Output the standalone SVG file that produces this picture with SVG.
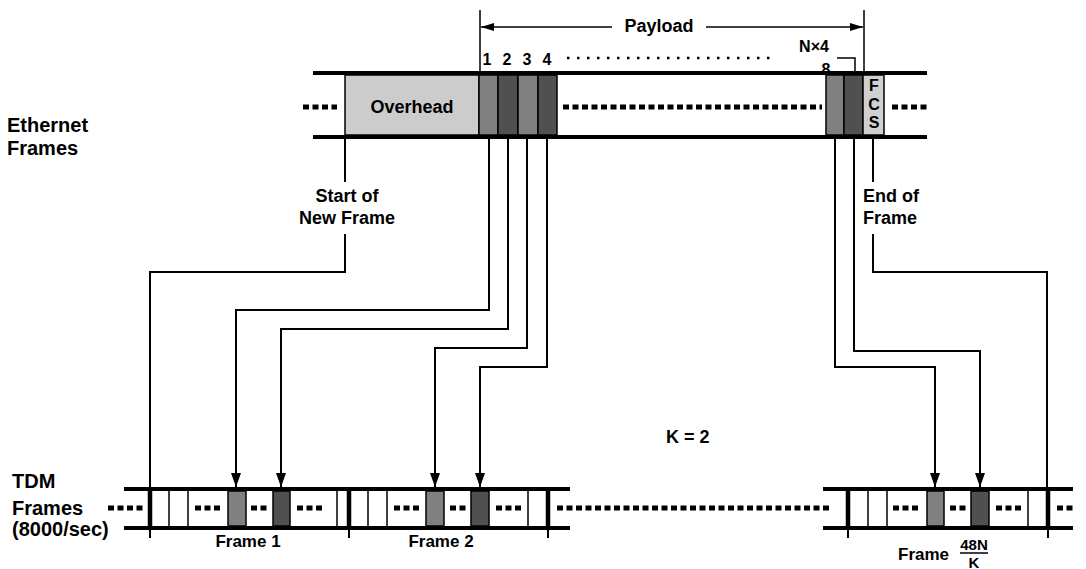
<svg xmlns="http://www.w3.org/2000/svg" width="1086" height="569" viewBox="0 0 1086 569">
<style>
.t{font-family:"Liberation Sans",Arial,sans-serif;font-weight:bold;font-size:18px;fill:#000}
.L{font-size:20px}
.s{font-size:16px}
.m{text-anchor:middle}
.ln{stroke:#000;stroke-width:2;fill:none}
.th{stroke:#000;stroke-width:1.5;fill:none}
.bar{stroke:#000;stroke-width:4}
.bnd{stroke:#000;stroke-width:4.5}
.dots{stroke:#000;stroke-width:5;stroke-dasharray:6 3.5;fill:none}
.sdots{stroke:#000;stroke-width:2.5;stroke-dasharray:2.5 7.5;fill:none}
.g1{fill:#808080;stroke:#000;stroke-width:1.5}
.g2{fill:#505050;stroke:#000;stroke-width:1.5}
.g3{fill:#cccccc;stroke:#000;stroke-width:1.5}
</style>
<defs>
<marker id="ah" viewBox="0 0 10 14" refX="5" refY="14" markerWidth="10" markerHeight="14" markerUnits="userSpaceOnUse" orient="0"><path d="M0,0 L10,0 L5,14 z" fill="#000"/></marker>
<marker id="pa" viewBox="0 0 13 8" refX="13" refY="4" markerWidth="13" markerHeight="8" markerUnits="userSpaceOnUse" orient="auto"><path d="M0,0 L13,4 L0,8 z" fill="#000"/></marker>
</defs>

<g id="labels-left">
<text class="t L" x="7" y="132">Ethernet</text>
<text class="t L" x="7" y="155">Frames</text>
<text class="t L" x="12" y="488">TDM</text>
<text class="t L" x="12" y="515">Frames</text>
<text class="t L" x="12" y="536">(8000/sec)</text>
</g>

<g id="payload">
<line class="th" x1="480" y1="10" x2="480" y2="73"/>
<line class="th" x1="864" y1="10" x2="864" y2="73"/>
<line class="th" x1="612" y1="27" x2="481" y2="27" marker-end="url(#pa)"/>
<line class="th" x1="706" y1="27" x2="863" y2="27" marker-end="url(#pa)"/>
<text class="t m" x="659" y="32">Payload</text>
<text class="t s m" x="487" y="65">1</text>
<text class="t s m" x="507" y="65">2</text>
<text class="t s m" x="527" y="65">3</text>
<text class="t s m" x="547" y="65">4</text>
<line class="sdots" x1="567" y1="58" x2="772" y2="58"/>
<text class="t m" x="814" y="52" style="font-size:16px">N×4</text>
<text class="t m" x="826" y="75" style="font-size:16px">8</text>
<path class="th" d="M837,58 H855 V73"/>
</g>

<g id="ethernet-frame">
<rect class="g3" x="345" y="75" width="134" height="60"/>
<rect class="g1" x="479" y="75" width="19" height="60"/>
<rect class="g2" x="498" y="75" width="20" height="60"/>
<rect class="g1" x="518" y="75" width="20" height="60"/>
<rect class="g2" x="538" y="75" width="19" height="60"/>
<rect class="g1" x="826" y="75" width="18" height="60"/>
<rect class="g2" x="844" y="75" width="19" height="60"/>
<rect class="g3" x="863" y="75" width="21" height="60" style="fill:#d0d0d0"/>
<line class="bar" x1="313" y1="73" x2="927" y2="73"/>
<line class="bar" x1="313" y1="137" x2="927" y2="137"/>
<line class="dots" x1="303" y1="107" x2="337" y2="107"/>
<line class="dots" x1="563" y1="107" x2="822" y2="107"/>
<line class="dots" x1="892" y1="107" x2="927" y2="107"/>
<text class="t m" x="412" y="113">Overhead</text>
<text class="t m" x="874" y="91" style="font-size:16px">F</text>
<text class="t m" x="874" y="109.5" style="font-size:16px">C</text>
<text class="t m" x="874" y="128" style="font-size:16px">S</text>
</g>

<g id="connectors">
<path class="ln" d="M345,137 V182 M345,234 V272 H150 V489"/>
<path class="ln" d="M489,137 V310 H236 V487" marker-end="url(#ah)"/>
<path class="ln" d="M508,137 V329 H281 V487" marker-end="url(#ah)"/>
<path class="ln" d="M527,137 V348 H435 V487" marker-end="url(#ah)"/>
<path class="ln" d="M547,137 V367 H480 V487" marker-end="url(#ah)"/>
<path class="ln" d="M835,137 V367 H935 V487" marker-end="url(#ah)"/>
<path class="ln" d="M854,137 V351 H980 V487" marker-end="url(#ah)"/>
<path class="ln" d="M873,137 V182 M873,234 V272 H1047 V489"/>
</g>

<g id="event-labels">
<text class="t m" x="347" y="202">Start of</text>
<text class="t m" x="347" y="224">New Frame</text>
<text class="t" x="863" y="202">End of</text>
<text class="t" x="863" y="224">Frame</text>
<text class="t" x="666" y="443">K = 2</text>
</g>

<g id="tdm-frame-1">
<rect class="g1" x="228" y="491" width="18" height="35"/>
<rect class="g2" x="273" y="491" width="17" height="35"/>
<line class="th" x1="169" y1="491" x2="169" y2="526"/>
<line class="th" x1="188" y1="491" x2="188" y2="526"/>
<line class="th" x1="337" y1="491" x2="337" y2="526"/>
<line class="dots" x1="195" y1="508" x2="220" y2="508"/>
<line class="dots" x1="251" y1="508" x2="267" y2="508"/>
<line class="dots" x1="297" y1="508" x2="322" y2="508"/>
<text class="t m" x="248" y="547" style="font-size:17px">Frame 1</text>
</g>

<g id="tdm-frame-2">
<rect class="g1" x="426" y="491" width="18" height="35"/>
<rect class="g2" x="471" y="491" width="18" height="35"/>
<line class="th" x1="368" y1="491" x2="368" y2="526"/>
<line class="th" x1="387" y1="491" x2="387" y2="526"/>
<line class="th" x1="528" y1="491" x2="528" y2="526"/>
<line class="dots" x1="394" y1="508" x2="419" y2="508"/>
<line class="dots" x1="450" y1="508" x2="466" y2="508"/>
<line class="dots" x1="496" y1="508" x2="521" y2="508"/>
<text class="t m" x="441" y="547" style="font-size:17px">Frame 2</text>
</g>

<g id="tdm-frame-n">
<rect class="g1" x="927" y="491" width="17" height="35"/>
<rect class="g2" x="971" y="491" width="18" height="35"/>
<line class="th" x1="868" y1="491" x2="868" y2="526"/>
<line class="th" x1="887" y1="491" x2="887" y2="526"/>
<line class="th" x1="1028" y1="491" x2="1028" y2="526"/>
<line class="dots" x1="893" y1="508" x2="918" y2="508"/>
<line class="dots" x1="950" y1="508" x2="966" y2="508"/>
<line class="dots" x1="996" y1="508" x2="1021" y2="508"/>
<text class="t" x="898" y="560" style="font-size:17px">Frame</text>
<text class="t m" x="974" y="550" style="font-size:15px">48N</text>
<line class="th" x1="960" y1="553" x2="988" y2="553"/>
<text class="t m" x="974" y="568" style="font-size:15px">K</text>
</g>

<g id="tdm-bars">
<line class="bar" x1="124" y1="489" x2="570" y2="489"/>
<line class="bar" x1="124" y1="528" x2="570" y2="528"/>
<line class="bar" x1="823" y1="489" x2="1073" y2="489"/>
<line class="bar" x1="823" y1="528" x2="1073" y2="528"/>
<path class="bnd" d="M150,489 V528 M349,489 V528 M548,489 V528 M848,489 V528 M1048,489 V528"/>
<path class="ln" d="M150,528 V538 M349,528 V538 M548,528 V538 M848,528 V538 M1048,528 V538"/>
<line class="dots" x1="108" y1="508" x2="143" y2="508"/>
<line class="dots" x1="557" y1="508" x2="830" y2="508"/>
<line class="dots" x1="1057" y1="508" x2="1073" y2="508"/>
</g>
</svg>
